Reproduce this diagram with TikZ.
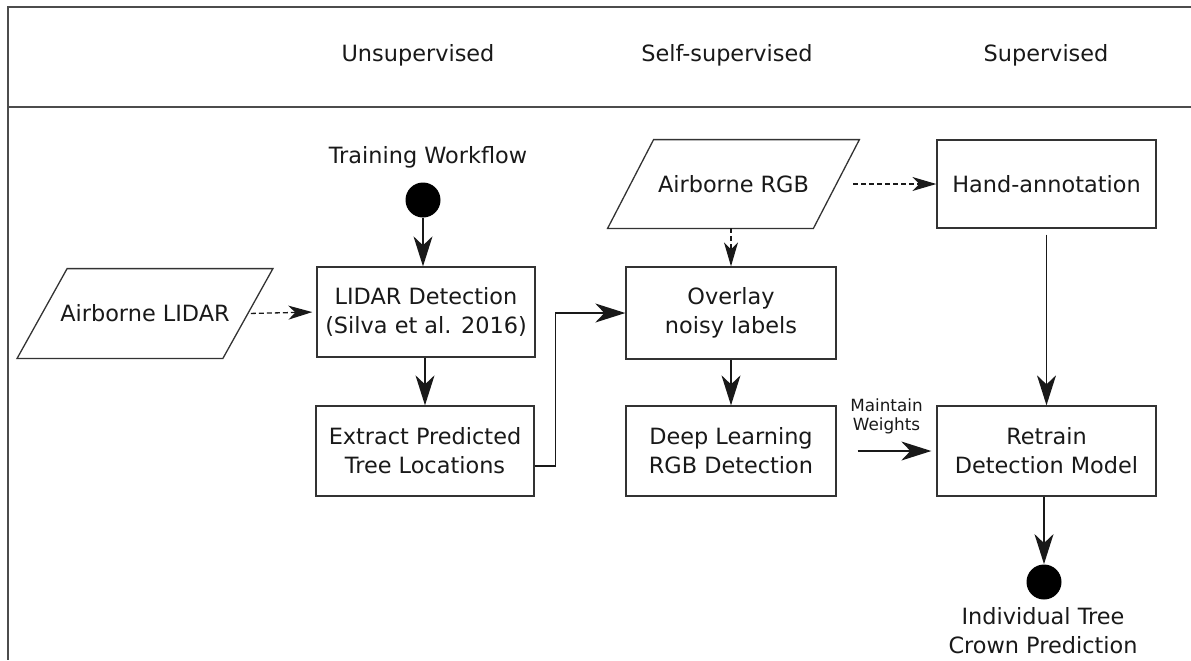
\documentclass[tikz,border=0pt]{standalone}
\usepackage{fontspec}
\setmainfont{DejaVu Sans}
\usetikzlibrary{arrows.meta}
\begin{document}
\begin{tikzpicture}[x=0.5pt,y=-0.5pt,
  txt/.style={font=\fontsize{11.2}{14.5}\selectfont, align=center, text=black!90},
  box/.style={txt, draw=black!80, line width=0.65pt, inner sep=0pt},
  para/.style={txt, inner sep=0pt},
  dot/.style={circle, fill=black, inner sep=0pt, minimum size=17.5pt},
  arr/.style={-{Stealth[length=15pt,width=9.5pt,inset=4.5pt]}, line width=0.8pt, draw=black!90},
  darr/.style={-{Stealth[length=12pt,width=7pt,inset=3.5pt]}, line width=0.65pt, dash pattern=on 2.5pt off 1.5pt, draw=black!90},
  frame/.style={draw=black!70, line width=0.65pt}]
\useasboundingbox (0,0) rectangle (1191,660);
% frame
\draw[frame] (1191,7) -- (8,7) -- (8,660);
\draw[frame] (8,107) -- (1191,107);
% headers
\node[txt] (hu) at (418,55) {Unsupervised};
\node[txt] (hs) at (727,55) {Self-supervised};
\node[txt] (hv) at (1046,55) {Supervised};
% nodes
\node[para, minimum width=102.5pt, minimum height=44.5pt] (lidar) at (145,313.5) {Airborne LIDAR};
\draw[black!80, line width=0.65pt] ([xshift=-12.5pt]lidar.south west) -- ([xshift=12.5pt]lidar.north west) -- ([xshift=12.5pt]lidar.north east) -- ([xshift=-12.5pt]lidar.south east) -- cycle;
\node[para, minimum width=102.5pt, minimum height=44pt] (rgb) at (733.5,184) {Airborne RGB};
\draw[black!80, line width=0.65pt] ([xshift=-11.5pt]rgb.south west) -- ([xshift=11.5pt]rgb.north west) -- ([xshift=11.5pt]rgb.north east) -- ([xshift=-11.5pt]rgb.south east) -- cycle;
\node[box, minimum width=109pt, minimum height=45pt] (lidet) at (426,312) {LIDAR Detection\\(Silva et al. 2016)};
\node[box, minimum width=109pt, minimum height=45pt] (extract) at (425,451) {Extract Predicted\\Tree Locations};
\node[box, minimum width=105pt, minimum height=46pt] (overlay) at (731,313) {Overlay\\noisy labels};
\node[box, minimum width=105pt, minimum height=45pt] (deep) at (731,451) {Deep Learning\\RGB Detection};
\node[box, minimum width=109.5pt, minimum height=44pt] (hand) at (1046.5,184) {Hand-annotation};
\node[box, minimum width=109.5pt, minimum height=45pt] (retrain) at (1046.5,451) {Retrain\\Detection Model};
\node[dot] (start) at (423,200) {};
\node[txt] (startlbl) at (428,157) {Training Workflow};
\node[dot] (end) at (1044,582) {};
\node[txt] (endlbl) at (1043,631) {Individual Tree\\Crown Prediction};
% connectors
\draw[arr] (start) -- (start |- lidet.north);
\draw[darr, shorten <=1.5pt, shorten >=2pt] (lidar.east) -- (lidet.west);
\draw[arr] (lidet.south -| extract.north) -- (extract.north);
\draw[arr] ([yshift=-7.5pt]extract.east) -- ++(21,0) |- (overlay.west);
\draw[darr] (rgb.south -| overlay.north) -- (overlay.north);
\draw[darr] ([xshift=8.5pt]rgb.east) -- (hand.west);
\draw[arr] (overlay.south) -- (deep.north);
\draw[arr, shorten <=10.5pt, shorten >=2.5pt] (deep.east) -- (retrain.west) node[midway, above=5pt, font=\fontsize{8.4}{9.5}\selectfont, align=center, text=black!90] {Maintain\\Weights};
\draw[arr, shorten <=3pt] (hand.south) -- (retrain.north);
\draw[arr] (retrain.south -| end.north) -- (end.north);
\end{tikzpicture}
\end{document}
